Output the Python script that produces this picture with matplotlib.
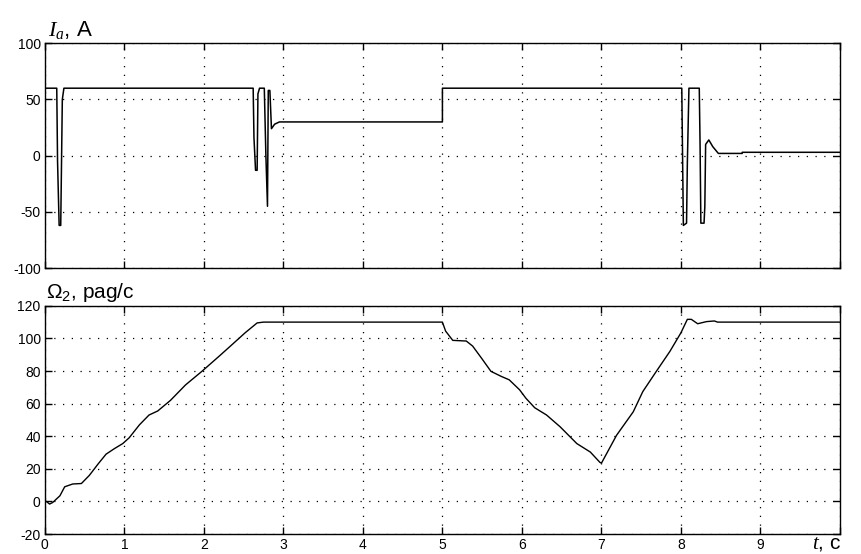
import matplotlib
matplotlib.use('Agg')
import matplotlib.pyplot as plt

# armature current I_a, A
t_cur = [0, 0.15, 0.16, 0.18, 0.2, 0.22, 0.24,
         2.62, 2.63, 2.65, 2.67, 2.68, 2.7, 2.76, 2.78, 2.8, 2.81, 2.83, 2.85, 2.89, 2.95,
         5.0, 5.0,
         8.01, 8.03, 8.07, 8.08, 8.1, 8.11, 8.23, 8.24, 8.25, 8.29, 8.3, 8.31, 8.35, 8.4, 8.47, 8.77, 8.77, 10]
i_cur = [60, 60, -5, -62, -62, 50, 60,
         60, 16, -13, -13, 55, 60, 60, 0, -45, 58, 58, 24, 28, 30,
         30, 60,
         60, -62, -60, -7, 60, 60, 60, 10, -60, -60, -45, 10, 14, 8, 2, 2, 3, 3]

# shaft speed Omega_2, rad/s
t_spd = [0, 0.02, 0.06, 0.1, 0.19, 0.25, 0.35, 0.46, 0.56, 0.67, 0.77, 0.875, 0.98, 1.06, 1.19,
         1.31, 1.42, 1.58, 1.77, 1.98, 2.19, 2.35, 2.52, 2.67, 2.75,
         5.0, 5.04, 5.13, 5.3, 5.38, 5.49, 5.61, 5.74, 5.84, 5.97, 6.05, 6.16, 6.31, 6.48, 6.69,
         6.86, 6.98, 7.0,
         7.19, 7.4, 7.52, 7.69, 7.86, 8.0, 8.08, 8.13, 8.21, 8.32, 8.42, 8.46, 10]
w_spd = [0, 0, -1.6, -0.6, 3.5, 9, 10.7, 11, 16, 23, 29, 32.4, 35.5, 39, 47,
         53, 55.5, 62, 71.5, 80, 89, 96, 103.5, 109.5, 110,
         110, 104.5, 98.8, 98.4, 95.3, 88, 79.8, 76.7, 74.6, 68.5, 63.3, 57.5, 53, 45.8, 35.5,
         30.3, 24, 23.5,
         40.6, 55, 67.4, 79.8, 92, 103.5, 111.7, 111.7, 109, 110.3, 110.7, 110, 110]

x_ticks = list(range(0, 11))
cur_ticks = [-100, -50, 0, 50, 100]
spd_ticks = [-20, 0, 20, 40, 60, 80, 100, 120]

plt.rcParams['font.family'] = ['Liberation Sans', 'DejaVu Sans']
plt.rcParams['axes.unicode_minus'] = False
plt.rcParams['mathtext.fontset'] = 'custom'
plt.rcParams['mathtext.rm'] = 'Liberation Sans'
plt.rcParams['mathtext.it'] = 'Liberation Serif:italic'

fig = plt.figure(figsize=(8.62, 5.54), dpi=100)
ax1 = fig.add_axes([0.052, 0.516, 0.9225, 0.406])
ax2 = fig.add_axes([0.052, 0.036, 0.9225, 0.412])

for ax in (ax1, ax2):
    ax.set_xlim(0, 10)
    ax.set_xticks(x_ticks)
    ax.grid(True, color='black', linestyle=(0, (1, 6)), linewidth=0.9)
    ax.tick_params(direction='in', top=True, right=True, length=5, width=1,
                   labelsize=10, pad=3)
    for s in ax.spines.values():
        s.set_linewidth(1)

ax1.plot(t_cur, i_cur, color='black', linewidth=1.1)
ax1.set_ylim(-100, 100)
ax1.set_yticks(cur_ticks)
ax1.set_xticklabels([])
ax1.text(0.004, 1.01, r'$I_a$, A', transform=ax1.transAxes, fontsize=16, va='bottom')

ax2.plot(t_spd, w_spd, color='black', linewidth=1.0)
ax2.set_ylim(-20, 120)
ax2.set_yticks(spd_ticks)
ax2.set_xticklabels([str(v) for v in x_ticks[:-1]] + [''])
ax2.text(0.002, 1.01, r'$\Omega_2$, pag/c', transform=ax2.transAxes, fontsize=15, va='bottom')
ax2.text(0.965, -0.04, r'$t$, c', transform=ax2.transAxes, fontsize=15, va='center', ha='left')

fig.savefig('out.png', dpi=100)
